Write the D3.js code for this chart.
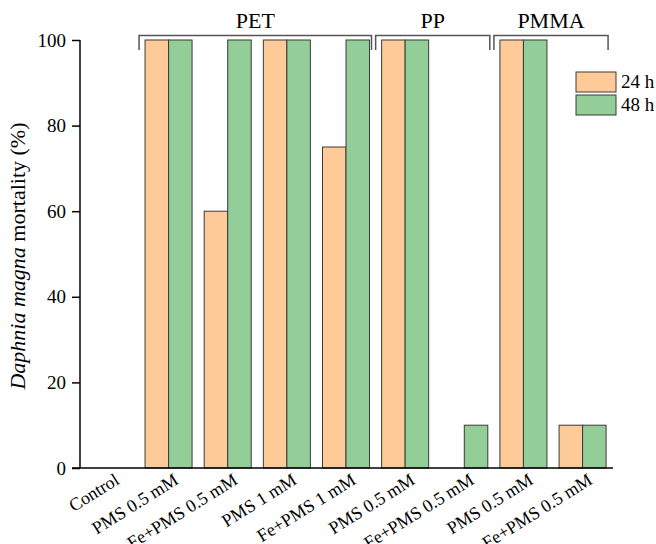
<!DOCTYPE html>
<html>
<head>
<meta charset="utf-8">
<script src="https://cdn.jsdelivr.net/npm/d3@7/dist/d3.min.js"></script>
<style>
  body { margin: 0; background: #fff; }
  svg { display: block; font-family: "Liberation Serif", "Times New Roman", serif; }
</style>
</head>
<body>
<svg id="chart" width="656" height="544"></svg>
<script>
const categories = ["Control", "PMS 0.5 mM", "Fe+PMS 0.5 mM", "PMS 1 mM", "Fe+PMS 1 mM",
                    "PMS 0.5 mM", "Fe+PMS 0.5 mM", "PMS 0.5 mM", "Fe+PMS 0.5 mM"];
const series = ["24 h", "48 h"];
const values24 = [0, 100, 60, 100, 75, 100, 0, 100, 10];
const values48 = [0, 100, 100, 100, 100, 100, 10, 100, 10];
const yTicks = [0, 20, 40, 60, 80, 100];
const groups = [
  { name: "PET", from: 1, to: 4 },
  { name: "PP", from: 5, to: 6 },
  { name: "PMMA", from: 7, to: 8 }
];
const colors = ["#FECB98", "#93CD97"];
const FONT = "Liberation Serif, Times New Roman, serif";

const svg = d3.select("#chart");
const x = d3.scaleBand().domain(d3.range(categories.length)).range([80, 612])
  .paddingInner(0.205).paddingOuter(0.1);
const xs = d3.scaleBand().domain(series).range([0, x.bandwidth()]);
const y = d3.scaleLinear().domain([0, 100]).range([468, 40]);

const data = categories.map((c, i) => ({ i, vals: [values24[i], values48[i]] }));

// bars
const g = svg.append("g");
data.forEach(d => {
  series.forEach((s, k) => {
    const v = d.vals[k];
    if (v <= 0) return;
    g.append("rect")
      .attr("x", x(d.i) + xs(s))
      .attr("y", y(v))
      .attr("width", xs.bandwidth())
      .attr("height", y(0) - y(v))
      .attr("fill", colors[k])
      .attr("stroke", "#3a3a3a")
      .attr("stroke-width", 1);
  });
});

// y axis
const yAxis = d3.axisLeft(y).tickValues(yTicks).tickSize(8).tickPadding(6);
const ya = svg.append("g").attr("transform", "translate(80,0)").call(yAxis)
  .attr("font-family", FONT).attr("font-size", 19);
ya.select(".domain").attr("stroke", "#000").attr("stroke-width", 1.5).attr("d", "M0,40V468");
ya.selectAll(".tick line").attr("stroke", "#000").attr("stroke-width", 1.5);
ya.selectAll(".tick text").attr("fill", "#000");

// x axis line
svg.append("line").attr("x1", 72).attr("x2", 613).attr("y1", 468).attr("y2", 468)
  .attr("stroke", "#000").attr("stroke-width", 1.5);

// x labels
svg.append("g").selectAll("text").data(categories).join("text")
  .attr("transform", (d, i) => `translate(${x(i) + x.bandwidth() / 2 + 11},${483}) rotate(-32)`)
  .attr("text-anchor", "end")
  .attr("font-size", 18)
  .attr("font-family", FONT)
  .attr("fill", "#000")
  .text(d => d);

// y label
const yl = svg.append("text")
  .attr("transform", "translate(25,256) rotate(-90)")
  .attr("text-anchor", "middle")
  .attr("font-size", 22)
  .attr("font-family", FONT)
  .attr("fill", "#000");
yl.append("tspan").attr("font-style", "italic").text("Daphnia magna");
yl.append("tspan").text(" mortality (%)");

// group brackets
groups.forEach(gr => {
  const x1 = x(gr.from) - 6;
  const x2 = x(gr.to) + x.bandwidth() + 2;
  svg.append("path")
    .attr("d", `M${x1},50V35.5H${x2}V50`)
    .attr("fill", "none").attr("stroke", "#555").attr("stroke-width", 1.5);
  svg.append("text")
    .attr("x", (x1 + x2) / 2).attr("y", 28)
    .attr("text-anchor", "middle")
    .attr("font-size", 22)
    .attr("font-family", FONT)
    .attr("fill", "#000")
    .text(gr.name);
});

// legend
const lg = svg.append("g");
series.forEach((s, k) => {
  const yy = 72 + k * 23;
  lg.append("rect").attr("x", 576).attr("y", yy).attr("width", 40).attr("height", 20)
    .attr("fill", colors[k]).attr("stroke", "#3a3a3a").attr("stroke-width", 1);
  lg.append("text").attr("x", 621).attr("y", yy + 16)
    .attr("font-size", 19)
    .attr("font-family", FONT)
    .attr("fill", "#000").text(s);
});
</script>
</body>
</html>
